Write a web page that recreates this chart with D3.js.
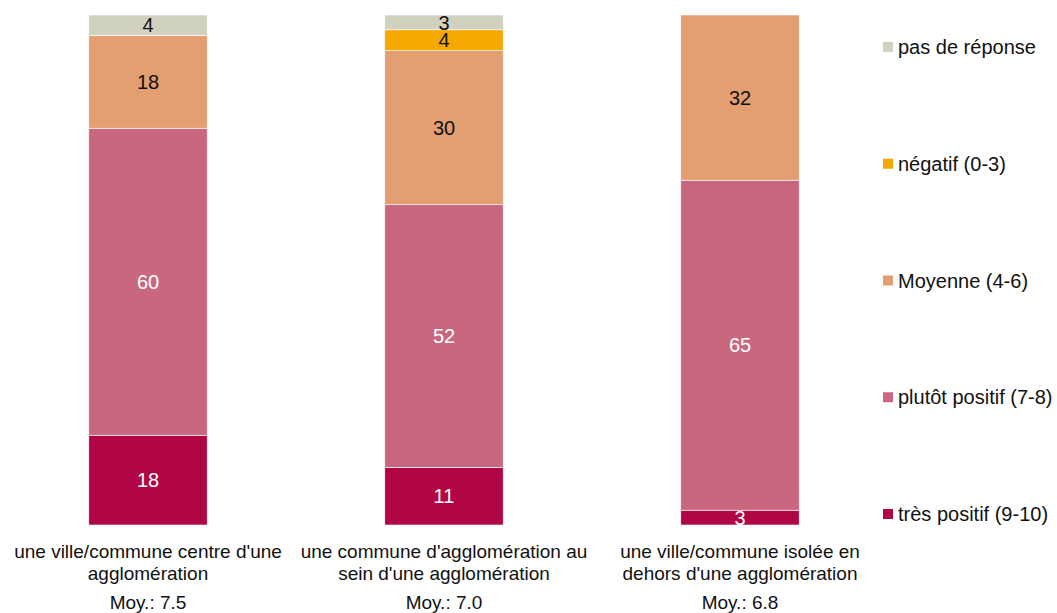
<!DOCTYPE html>
<html><head><meta charset="utf-8">
<script src="https://cdn.jsdelivr.net/npm/d3@7"></script>
<style>body{margin:0;background:#fff}svg{display:block}text{font-family:"Liberation Sans",Arial,sans-serif}</style>
</head><body><svg id="c" width="1057" height="613"></svg>
<script>
const categories = [
  ["une ville/commune centre d'une", "agglomération"],
  ["une commune d'agglomération au", "sein d'une agglomération"],
  ["une ville/commune isolée en", "dehors d'une agglomération"]
];
const means = ["Moy.: 7.5", "Moy.: 7.0", "Moy.: 6.8"];
const seriesNames = ["très positif (9-10)", "plutôt positif (7-8)", "Moyenne (4-6)", "négatif (0-3)", "pas de réponse"];
const tresPositif = [17.6, 11.3, 2.9];
const plutotPositif = [60.2, 51.5, 64.7];
const moyenne = [18.2, 30.2, 32.4];
const negatif = [0, 4.1, 0];
const pasDeReponse = [4.0, 2.9, 0];
const colors = ["#B00646", "#C9677F", "#E39E71", "#F5A800", "#D1D1C0"];
const labelColors = ["#fff", "#fff", "#111", "#111", "#111"];

const seriesValues = [tresPositif, plutotPositif, moyenne, negatif, pasDeReponse];
const rows = categories.map((c, i) => {
  const r = {idx: i};
  seriesNames.forEach((s, j) => r[s] = seriesValues[j][i]);
  return r;
});
const stack = d3.stack().keys(seriesNames)(rows);

const svg = d3.select("#c");
const x = d3.scaleBand().domain(d3.range(categories.length)).range([0, 888]).paddingInner(0.6).paddingOuter(0.3);
const y = d3.scaleLinear().domain([0, 100]).range([525, 15]);

const g = svg.append("g");
stack.forEach((layer, j) => {
  const lg = g.append("g");
  lg.selectAll("rect").data(layer.filter(d => d[1] - d[0] > 0)).join("rect")
    .attr("x", d => x(d.data.idx))
    .attr("width", x.bandwidth())
    .attr("y", d => y(d[1]))
    .attr("height", d => y(d[0]) - y(d[1]))
    .attr("fill", colors[j])
    .attr("stroke", "#fff").attr("stroke-width", 0.6);
});
stack.forEach((layer, j) => {
  g.append("g").selectAll("text").data(layer.filter(d => d[1] - d[0] > 0)).join("text")
    .attr("x", d => x(d.data.idx) + x.bandwidth() / 2)
    .attr("y", d => (y(d[0]) + y(d[1])) / 2)
    .attr("dy", "0.36em")
    .attr("text-anchor", "middle")
    .attr("font-size", 20)
    .attr("fill", labelColors[j])
    .text(d => Math.round(d[1] - d[0]));
});

// category labels
categories.forEach((lines, i) => {
  const cx = x(i) + x.bandwidth() / 2;
  const t = svg.append("text").attr("text-anchor", "middle").attr("font-size", 19).attr("fill", "#111");
  lines.forEach((l, k) => t.append("tspan").attr("x", cx).attr("y", 558 + k * 21.5).text(l));
  svg.append("text").attr("text-anchor", "middle").attr("font-size", 19).attr("fill", "#111")
    .attr("x", cx).attr("y", 609).text(means[i]);
});

// legend (top to bottom: reversed order)
const legendOrder = seriesNames.map((s, j) => j).reverse();
const ly = d3.scalePoint().domain(legendOrder).range([47, 514]);
legendOrder.forEach(j => {
  svg.append("rect").attr("x", 883).attr("y", ly(j) - 5).attr("width", 10).attr("height", 10).attr("fill", colors[j]);
  svg.append("text").attr("x", 898).attr("y", ly(j)).attr("dy", "0.36em").attr("font-size", 20).attr("fill", "#111").text(seriesNames[j]);
});
</script></body></html>
